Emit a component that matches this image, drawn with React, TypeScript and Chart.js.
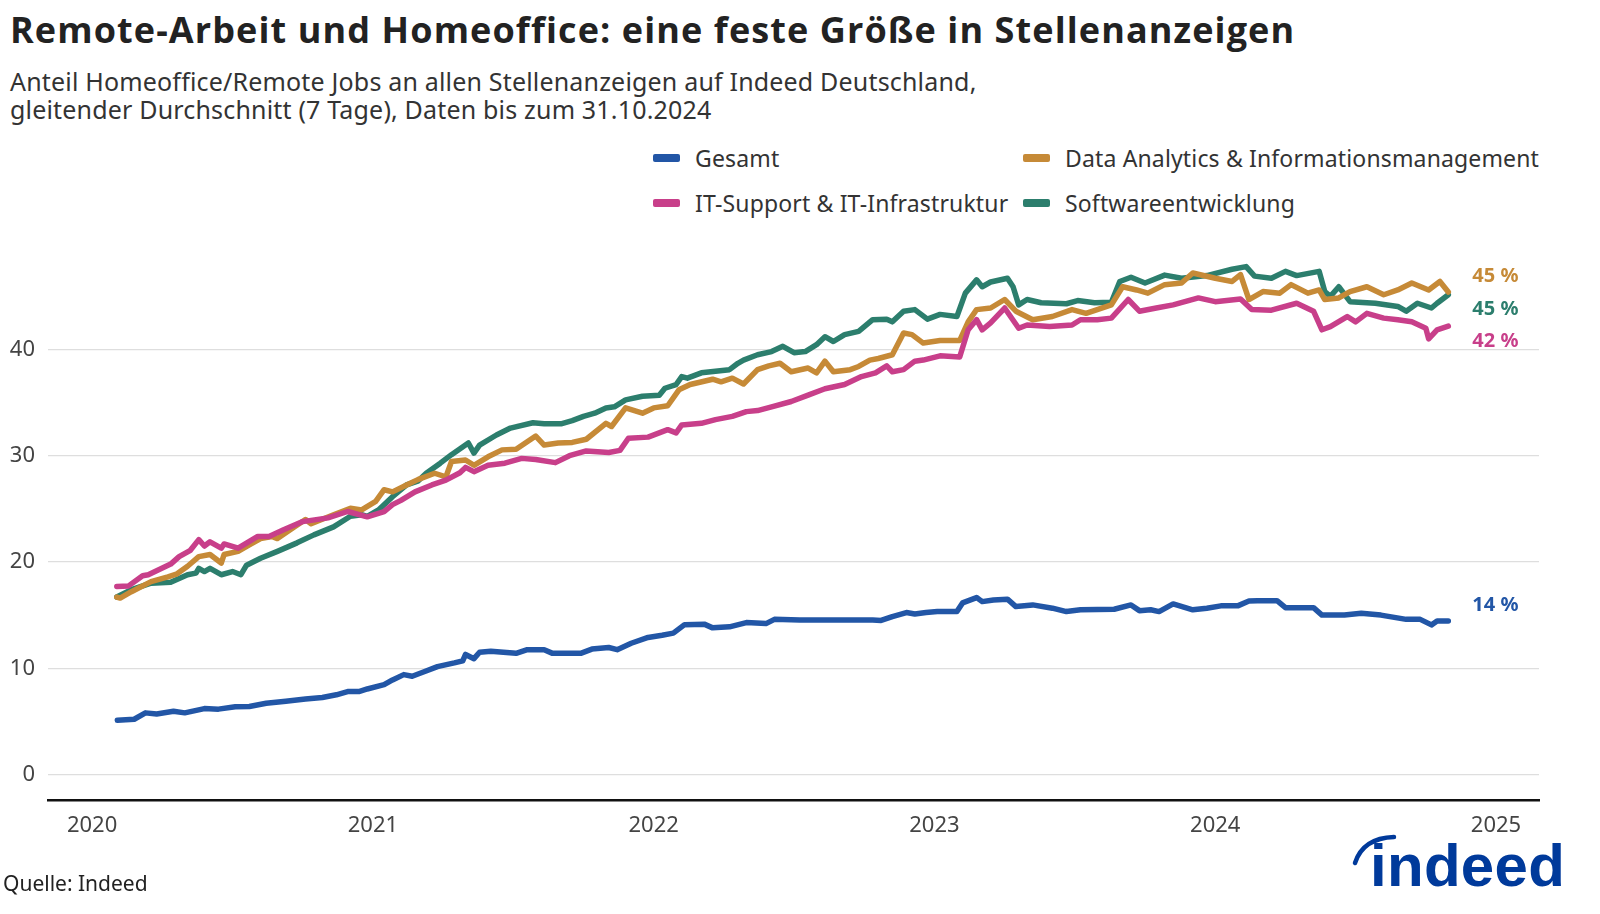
import React, { useEffect, useRef } from "react";
import { Chart, registerables } from "chart.js";

Chart.register(...registerables);

const FONT = '"Noto Sans", "Open Sans", sans-serif';
const TITLE_FONT = '"Open Sans", "Noto Sans", sans-serif';

const TITLE = "Remote-Arbeit und Homeoffice: eine feste Größe in Stellenanzeigen";
const SUBTITLE_1 = "Anteil Homeoffice/Remote Jobs an allen Stellenanzeigen auf Indeed Deutschland,";
const SUBTITLE_2 = "gleitender Durchschnitt (7 Tage), Daten bis zum 31.10.2024";
const SOURCE = "Quelle: Indeed";

const seriesNames = [
  "Gesamt",
  "IT-Support & IT-Infrastruktur",
  "Data Analytics & Informationsmanagement",
  "Softwareentwicklung",
];
const seriesColors = ["#2256a6", "#c83f8a", "#c68a37", "#2c7e6d"];

const yTickValues = [0, 10, 20, 30, 40];
const xTickYears = [2020, 2021, 2022, 2023, 2024, 2025];

// [decimal year, percent]
const gesamt: [number, number][] = [
  [2020.09, 5.1], [2020.15, 5.2], [2020.19, 5.8], [2020.23, 5.7], [2020.29, 5.95], [2020.33, 5.8],
  [2020.4, 6.2], [2020.45, 6.15], [2020.51, 6.37], [2020.56, 6.4], [2020.62, 6.7], [2020.69, 6.9],
  [2020.76, 7.1], [2020.82, 7.25], [2020.87, 7.5], [2020.91, 7.8], [2020.95, 7.8], [2020.98, 8.05],
  [2021.04, 8.45], [2021.07, 8.9], [2021.11, 9.4], [2021.14, 9.25], [2021.18, 9.65], [2021.23, 10.15],
  [2021.29, 10.5], [2021.32, 10.7], [2021.33, 11.3], [2021.36, 10.9], [2021.38, 11.5], [2021.42, 11.6],
  [2021.51, 11.4], [2021.55, 11.75], [2021.61, 11.75], [2021.64, 11.4], [2021.74, 11.4], [2021.78, 11.8],
  [2021.84, 11.95], [2021.87, 11.75], [2021.92, 12.35], [2021.98, 12.9], [2022.03, 13.1], [2022.07, 13.3],
  [2022.11, 14.1], [2022.18, 14.15], [2022.21, 13.8], [2022.27, 13.9], [2022.33, 14.3], [2022.4, 14.2],
  [2022.43, 14.6], [2022.52, 14.55], [2022.65, 14.55], [2022.78, 14.55], [2022.81, 14.5], [2022.85, 14.86],
  [2022.9, 15.24], [2022.93, 15.1], [2022.97, 15.24], [2023.01, 15.33], [2023.08, 15.33], [2023.1, 16.15],
  [2023.15, 16.65], [2023.17, 16.27], [2023.21, 16.43], [2023.26, 16.5], [2023.29, 15.8], [2023.35, 15.96],
  [2023.42, 15.65], [2023.47, 15.33], [2023.52, 15.5], [2023.64, 15.55], [2023.7, 15.96], [2023.73, 15.42],
  [2023.77, 15.5], [2023.8, 15.33], [2023.85, 16.05], [2023.92, 15.5], [2023.97, 15.65], [2024.02, 15.87],
  [2024.08, 15.87], [2024.12, 16.33], [2024.15, 16.36], [2024.22, 16.36], [2024.25, 15.7], [2024.35, 15.7],
  [2024.38, 15.0], [2024.46, 15.0], [2024.52, 15.17], [2024.59, 15.0], [2024.68, 14.6], [2024.73, 14.6],
  [2024.77, 14.08], [2024.79, 14.45], [2024.83, 14.45],
];

const itSupport: [number, number][] = [
  [2020.088, 17.7], [2020.13, 17.75], [2020.18, 18.7], [2020.2, 18.8], [2020.28, 19.8], [2020.31, 20.5],
  [2020.35, 21.1], [2020.38, 22.1], [2020.4, 21.5], [2020.42, 21.9], [2020.46, 21.3], [2020.47, 21.7],
  [2020.52, 21.3], [2020.59, 22.4], [2020.63, 22.4], [2020.68, 23.0], [2020.75, 23.8], [2020.84, 24.15],
  [2020.91, 24.75], [2020.98, 24.25], [2021.04, 24.75], [2021.07, 25.4], [2021.1, 25.8], [2021.15, 26.6],
  [2021.21, 27.25], [2021.26, 27.7], [2021.31, 28.4], [2021.33, 28.9], [2021.36, 28.5], [2021.41, 29.1],
  [2021.47, 29.3], [2021.53, 29.75], [2021.58, 29.65], [2021.65, 29.35], [2021.7, 30.0], [2021.76, 30.45],
  [2021.84, 30.3], [2021.88, 30.5], [2021.91, 31.65], [2021.98, 31.75], [2022.05, 32.45], [2022.08, 32.15],
  [2022.1, 32.9], [2022.17, 33.05], [2022.22, 33.4], [2022.28, 33.7], [2022.33, 34.15], [2022.37, 34.25],
  [2022.42, 34.6], [2022.49, 35.1], [2022.55, 35.7], [2022.61, 36.3], [2022.68, 36.7], [2022.74, 37.45],
  [2022.79, 37.8], [2022.83, 38.45], [2022.85, 37.9], [2022.89, 38.1], [2022.93, 38.9], [2022.96, 39.0],
  [2023.02, 39.4], [2023.09, 39.3], [2023.12, 41.85], [2023.15, 42.8], [2023.17, 41.85], [2023.2, 42.5],
  [2023.25, 43.9], [2023.3, 42.0], [2023.33, 42.3], [2023.41, 42.15], [2023.49, 42.3], [2023.52, 42.8],
  [2023.58, 42.8], [2023.63, 42.95], [2023.69, 44.7], [2023.73, 43.6], [2023.79, 43.9], [2023.85, 44.2],
  [2023.94, 44.85], [2024.0, 44.5], [2024.09, 44.75], [2024.13, 43.75], [2024.2, 43.7], [2024.29, 44.35],
  [2024.35, 43.6], [2024.38, 41.85], [2024.41, 42.15], [2024.47, 43.1], [2024.5, 42.6], [2024.54, 43.4],
  [2024.6, 42.95], [2024.65, 42.8], [2024.7, 42.6], [2024.75, 42.0], [2024.76, 41.0], [2024.79, 41.85],
  [2024.83, 42.2],
];

const dataAnalytics: [number, number][] = [
  [2020.088, 16.7], [2020.1, 16.6], [2020.14, 17.2], [2020.21, 18.15], [2020.27, 18.6], [2020.3, 18.85],
  [2020.34, 19.6], [2020.38, 20.5], [2020.42, 20.7], [2020.46, 19.9], [2020.47, 20.7], [2020.52, 21.0],
  [2020.56, 21.6], [2020.6, 22.2], [2020.64, 22.4], [2020.66, 22.2], [2020.72, 23.3], [2020.76, 24.0],
  [2020.78, 23.6], [2020.86, 24.45], [2020.92, 25.05], [2020.96, 24.9], [2021.01, 25.7], [2021.04, 26.8],
  [2021.07, 26.6], [2021.12, 27.25], [2021.16, 27.75], [2021.22, 28.35], [2021.26, 28.0], [2021.28, 29.45],
  [2021.33, 29.6], [2021.36, 29.1], [2021.41, 29.9], [2021.46, 30.55], [2021.51, 30.6], [2021.58, 31.85],
  [2021.61, 31.0], [2021.66, 31.2], [2021.71, 31.25], [2021.76, 31.55], [2021.83, 33.05], [2021.85, 32.75],
  [2021.9, 34.5], [2021.96, 34.0], [2022.0, 34.5], [2022.05, 34.7], [2022.09, 36.2], [2022.13, 36.7],
  [2022.21, 37.2], [2022.24, 36.95], [2022.28, 37.3], [2022.32, 36.75], [2022.37, 38.1], [2022.41, 38.45],
  [2022.45, 38.7], [2022.49, 37.9], [2022.55, 38.25], [2022.58, 37.8], [2022.61, 38.9], [2022.64, 37.9],
  [2022.7, 38.1], [2022.73, 38.4], [2022.77, 39.0], [2022.8, 39.15], [2022.85, 39.5], [2022.89, 41.55],
  [2022.92, 41.4], [2022.96, 40.6], [2023.02, 40.85], [2023.09, 40.85], [2023.12, 42.6], [2023.15, 43.75],
  [2023.2, 43.9], [2023.25, 44.7], [2023.29, 43.6], [2023.35, 42.8], [2023.42, 43.1], [2023.49, 43.75],
  [2023.54, 43.4], [2023.63, 44.2], [2023.67, 45.9], [2023.72, 45.6], [2023.76, 45.3], [2023.82, 46.1],
  [2023.88, 46.25], [2023.92, 47.2], [2024.0, 46.7], [2024.06, 46.4], [2024.09, 47.05], [2024.12, 44.7],
  [2024.17, 45.45], [2024.23, 45.3], [2024.27, 46.1], [2024.33, 45.3], [2024.37, 45.6], [2024.39, 44.7],
  [2024.44, 44.85], [2024.48, 45.45], [2024.54, 45.9], [2024.6, 45.15], [2024.65, 45.6], [2024.7, 46.25],
  [2024.76, 45.6], [2024.8, 46.4], [2024.83, 45.4],
];

const software: [number, number][] = [
  [2020.088, 16.7], [2020.14, 17.4], [2020.21, 18.0], [2020.28, 18.1], [2020.34, 18.8], [2020.37, 18.95],
  [2020.38, 19.4], [2020.4, 19.1], [2020.42, 19.4], [2020.46, 18.8], [2020.5, 19.1], [2020.53, 18.8],
  [2020.55, 19.7], [2020.6, 20.35], [2020.66, 21.0], [2020.73, 21.8], [2020.79, 22.55], [2020.86, 23.3],
  [2020.92, 24.3], [2020.96, 24.45], [2020.98, 24.3], [2021.02, 24.9], [2021.07, 26.15], [2021.12, 27.25],
  [2021.16, 27.6], [2021.19, 28.35], [2021.24, 29.3], [2021.28, 30.1], [2021.34, 31.2], [2021.36, 30.25],
  [2021.38, 31.0], [2021.44, 31.95], [2021.49, 32.6], [2021.57, 33.1], [2021.61, 33.0], [2021.67, 33.0],
  [2021.71, 33.3], [2021.75, 33.7], [2021.79, 34.0], [2021.83, 34.5], [2021.86, 34.6], [2021.9, 35.25],
  [2021.96, 35.6], [2022.02, 35.7], [2022.04, 36.35], [2022.08, 36.7], [2022.1, 37.45], [2022.12, 37.3],
  [2022.17, 37.8], [2022.27, 38.1], [2022.3, 38.7], [2022.32, 39.0], [2022.37, 39.5], [2022.42, 39.8],
  [2022.46, 40.3], [2022.5, 39.7], [2022.54, 39.8], [2022.58, 40.45], [2022.61, 41.2], [2022.64, 40.75],
  [2022.68, 41.4], [2022.73, 41.7], [2022.78, 42.8], [2022.83, 42.85], [2022.85, 42.6], [2022.89, 43.6],
  [2022.93, 43.75], [2022.975, 42.85], [2023.02, 43.3], [2023.08, 43.1], [2023.11, 45.3], [2023.15, 46.55],
  [2023.17, 45.9], [2023.2, 46.35], [2023.26, 46.7], [2023.28, 45.9], [2023.3, 44.2], [2023.33, 44.7],
  [2023.38, 44.4], [2023.47, 44.3], [2023.51, 44.6], [2023.57, 44.4], [2023.63, 44.45], [2023.66, 46.4],
  [2023.7, 46.8], [2023.75, 46.25], [2023.82, 47.0], [2023.88, 46.7], [2023.97, 46.95], [2024.06, 47.55],
  [2024.11, 47.8], [2024.14, 46.9], [2024.2, 46.7], [2024.25, 47.35], [2024.29, 46.95], [2024.37, 47.35],
  [2024.39, 45.45], [2024.41, 45.0], [2024.44, 45.9], [2024.48, 44.5], [2024.57, 44.35], [2024.65, 44.05],
  [2024.68, 43.6], [2024.72, 44.35], [2024.77, 43.9], [2024.79, 44.35], [2024.83, 45.15],
];

const seriesData = [gesamt, itSupport, dataAnalytics, software];

// value-space anchors for the end labels (nudged apart so they don't collide)
const endLabelAnchors = [15.95, 40.8, 46.9, 43.8];

const X_MIN = 2019.843;
const X_MAX = 2025.153;
const Y_MIN = -2.4;
const Y_MAX = 50;

const endLabelPlugin = {
  id: "endLabels",
  afterDatasetsDraw(chart: any) {
    const ctx = chart.ctx;
    const yScale = chart.scales.y;
    ctx.save();
    ctx.font = `bold 20px ${FONT}`;
    ctx.textBaseline = "middle";
    ctx.textAlign = "left";
    chart.data.datasets.forEach((ds: any, i: number) => {
      const meta = chart.getDatasetMeta(i);
      const lastEl = meta.data[meta.data.length - 1];
      const lastVal = ds.data[ds.data.length - 1].y;
      ctx.fillStyle = ds.borderColor;
      ctx.fillText(`${Math.round(lastVal)} %`, lastEl.x + 24, yScale.getPixelForValue(endLabelAnchors[i]));
    });
    ctx.restore();
  },
};

function LineChart() {
  const ref = useRef<HTMLCanvasElement | null>(null);
  useEffect(() => {
    if (!ref.current) return;
    const datasets = seriesNames.map((name, i) => ({
      label: name,
      data: seriesData[i].map(([x, y]) => ({ x, y })),
      borderColor: seriesColors[i],
      backgroundColor: seriesColors[i],
      borderWidth: 5.5,
      pointRadius: 0,
      pointHoverRadius: 0,
      tension: 0,
      borderJoinStyle: "round" as const,
      borderCapStyle: "round" as const,
      fill: false,
    }));
    const chart = new Chart(ref.current, {
      type: "line",
      data: { datasets },
      options: {
        animation: false,
        responsive: false,
        devicePixelRatio: 1,
        layout: { padding: { top: 0, right: 61, left: 0, bottom: 0 } },
        plugins: { legend: { display: false }, tooltip: { enabled: false } },
        scales: {
          x: {
            type: "linear",
            min: X_MIN,
            max: X_MAX,
            afterFit: (s: any) => { s.height = 70; },
            afterBuildTicks: (s: any) => { s.ticks = xTickYears.map((v) => ({ value: v })); },
            grid: { display: false, drawTicks: false },
            border: { display: true, color: "#111", width: 2.5 },
            ticks: {
              padding: 13,
              color: "#444",
              font: { family: FONT, size: 22 },
              callback: (v: any) => String(v),
              maxRotation: 0,
            },
          },
          y: {
            type: "linear",
            min: Y_MIN,
            max: Y_MAX,
            afterFit: (s: any) => { s.width = 48; },
            afterBuildTicks: (s: any) => { s.ticks = yTickValues.map((v) => ({ value: v })); },
            grid: { color: "#dedede", lineWidth: 1.3, drawTicks: false },
            border: { display: false },
            ticks: {
              padding: 13,
              color: "#444",
              font: { family: FONT, size: 22 },
              callback: (v: any) => String(v),
            },
          },
        },
      },
      plugins: [endLabelPlugin],
    });
    return () => chart.destroy();
  }, []);
  return (
    <canvas
      ref={ref}
      width={1600}
      height={653}
      style={{ position: "absolute", left: 0, top: 217, width: 1600, height: 653 }}
    />
  );
}

function LegendItem({ color, label, left, top }: { color: string; label: string; left: number; top: number }) {
  return (
    <div style={{ position: "absolute", left, top, height: 30, display: "flex", alignItems: "center" }}>
      <span style={{ display: "inline-block", width: 27, height: 8, background: color, borderRadius: 2, marginRight: 15 }} />
      <span style={{ fontSize: 23, letterSpacing: 0.15, color: "#333", whiteSpace: "nowrap" }}>{label}</span>
    </div>
  );
}

export default function App() {
  const legendPos = [
    { left: 653, top: 143 },
    { left: 653, top: 188 },
    { left: 1023, top: 143 },
    { left: 1023, top: 188 },
  ];
  return (
    <div
      style={{
        position: "absolute",
        left: 0,
        top: 0,
        width: 1600,
        height: 914,
        background: "#fff",
        fontFamily: FONT,
        overflow: "hidden",
      }}
    >
      <div style={{ position: "absolute", left: 10, top: 7, fontFamily: TITLE_FONT, fontSize: 36, letterSpacing: 1.1, fontWeight: 700, color: "#222", whiteSpace: "nowrap", lineHeight: "46px" }}>
        {TITLE}
      </div>
      <div style={{ position: "absolute", left: 10, top: 67, fontSize: 25, letterSpacing: 0.18, color: "#333", lineHeight: "28px", whiteSpace: "nowrap" }}>
        <div>{SUBTITLE_1}</div>
        <div>{SUBTITLE_2}</div>
      </div>
      {seriesNames.map((n, i) => (
        <LegendItem key={n} color={seriesColors[i]} label={n} left={legendPos[i].left} top={legendPos[i].top} />
      ))}
      <LineChart />
      <div style={{ position: "absolute", left: 3, top: 869, fontSize: 21, color: "#222", whiteSpace: "nowrap", lineHeight: "28px" }}>
        {SOURCE}
      </div>
      <svg width={60} height={40} style={{ position: "absolute", left: 1347, top: 832 }}>
        <path d="M 8 31 Q 16 6 47 5" stroke="#003a9b" strokeWidth={4.5} fill="none" strokeLinecap="round" />
      </svg>
      <div
        style={{
          position: "absolute",
          left: 1370,
          top: 836,
          fontFamily: '"Liberation Sans", Arial, sans-serif',
          fontWeight: 700,
          fontSize: 60,
          letterSpacing: 0.3,
          color: "#003a9b",
          lineHeight: "60px",
          whiteSpace: "nowrap",
        }}
      >
        indeed
      </div>
    </div>
  );
}
